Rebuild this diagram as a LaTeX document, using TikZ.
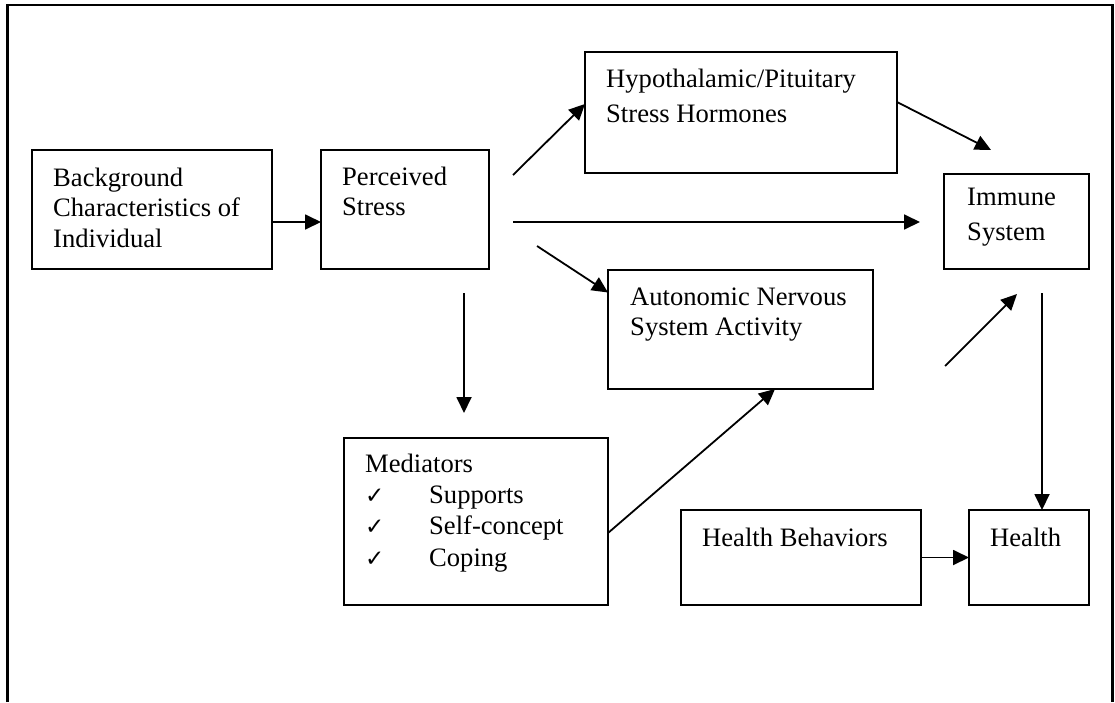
\documentclass[tikz,border=0pt]{standalone}
\usepackage{fontspec}
\setmainfont{Liberation Serif}
\newfontfamily\checkfont{DejaVu Sans}
\usetikzlibrary{arrows.meta}

\newcommand{\chk}{\makebox[64pt][l]{\checkfont\fontsize{23}{23}\selectfont ✓}}
\newcommand{\topstrut}{\rule{0pt}{20pt}}

\begin{document}
\begin{tikzpicture}[
    x=1pt, y=-1pt,
    box/.style={rectangle, draw, line width=2.1pt, anchor=north west, inner sep=0pt, outer sep=0pt},
    txt/.style={anchor=north west, inner sep=0pt, align=left, font=\fontsize{26.6}{30.6}\selectfont},
    arrow/.style={-{Triangle[length=16pt, width=15pt]}, line width=1.8pt}
]
\useasboundingbox (0,0) rectangle (1115,702);

% Outer frame, open at the bottom
\draw[line width=2.4pt] (7.5,702) -- (7.5,5) -- (1112.5,5) -- (1112.5,702);

% Boxes
\node[box, minimum width=240pt, minimum height=119pt] (bg) at (32,150) {};
\node[box, minimum width=168pt, minimum height=119pt] (percv) at (321,150) {};
\node[box, minimum width=312pt, minimum height=121pt] (hypo) at (585,52) {};
\node[box, minimum width=145pt, minimum height=95pt] (immune) at (944,174) {};
\node[box, minimum width=265pt, minimum height=119pt] (ans) at (608,270) {};
\node[box, minimum width=264pt, minimum height=167pt] (med) at (344,438) {};
\node[box, minimum width=240pt, minimum height=95pt] (hb) at (681,510) {};
\node[box, minimum width=120pt, minimum height=95pt] (health) at (969,510) {};

% Box texts
\node[txt] (bgtext) at (53,166) {\topstrut Background\\Characteristics of\\Individual};
\node[txt] (percvtext) at (342,165) {\topstrut Perceived\\Stress};
\node[txt, font=\fontsize{26.6}{35}\selectfont] (hypotext) at (606,67) {\topstrut Hypothalamic/Pituitary\\Stress Hormones};
\node[txt, font=\fontsize{26.6}{35}\selectfont] (immunetext) at (967,185) {\topstrut Immune\\System};
\node[txt] (anstext) at (630,285) {\topstrut Autonomic Nervous\\System Activity};
\node[txt, font=\fontsize{26.6}{31.3}\selectfont] (medtext) at (365,452) {\topstrut Mediators\\\chk Supports\\\chk Self-concept\\\chk Coping};
\node[txt] (hbtext) at (702,526) {\topstrut Health Behaviors};
\node[txt] (healthtext) at (990,526) {\topstrut Health};

% Free arrow ends
\coordinate (psA) at (513,175);
\coordinate (psB) at (513,222);
\coordinate (psC) at (537,246);
\coordinate (psD) at (464,293);
\coordinate (medtop) at (464,413);
\coordinate (imA) at (991,150);
\coordinate (imB) at (920,222);
\coordinate (ansB) at (945,366);
\coordinate (imC) at (1017,294);
\coordinate (imD) at (1042,293);

% Arrows
\draw[arrow] ([yshift=-12.5pt]bg.east) -- ([yshift=-12.5pt]percv.west);
\draw[arrow] (psA) -- ([yshift=8.5pt]hypo.west);
\draw[arrow] ([yshift=10.5pt]hypo.east) -- (imA);
\draw[arrow] (psB) -- (imB);
\draw[arrow] (psC) -- ([yshift=37pt]ans.west);
\draw[arrow] (psD) -- (medtop);
\draw[arrow] ([yshift=-11.5pt]med.east) -- ([xshift=34.5pt]ans.south);
\draw[arrow] (ansB) -- (imC);
\draw[arrow] (imD) -- (imD |- health.north);
\draw[arrow] (hb) -- (health);

\end{tikzpicture}
\end{document}
